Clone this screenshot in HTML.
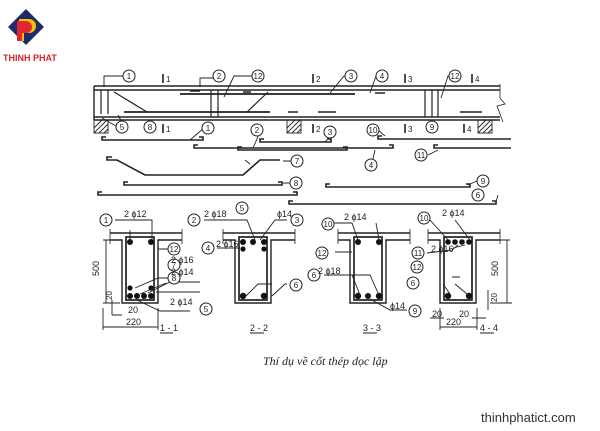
<!DOCTYPE html>
<html><head><meta charset="utf-8"><style>
html,body{margin:0;padding:0;background:#fff;}
svg{display:block;}
text{font-family:"Liberation Sans",sans-serif;fill:#222;}
</style></head><body>
<svg width="600" height="431" viewBox="0 0 600 431" xmlns="http://www.w3.org/2000/svg">
<defs>
<g id="sec" fill="none" stroke="#222">
  <path d="M-12,233 H60 M-12,240 H0 V303 H36 V240 H60" stroke-width="1.4"/>
  <path d="M-12,229 v15 M60,229 v15" stroke-width="0.8"/>
  <rect x="4" y="237" width="28" height="63" stroke-width="1.7"/>
</g>
<g id="hat" stroke="#222" fill="none" stroke-width="0.9">
  <rect x="0" y="0" width="14" height="13"/>
  <path d="M0,8 L8,0 M0,13 L13,0 M5,13 L14,4 M10,13 L14,9"/>
</g>
</defs>

<!-- Logo -->
<path d="M26,9 L44,27 L26,45 L8,27 Z" fill="#1f2a6b"/>
<path d="M19,19 h10 a7,7 0 0 1 0,14 h-5 v8 h-5 z" fill="#f2c100"/>
<path d="M17,21 h9 a6,6 0 0 1 0,12 h-4 v8 h-5 z" fill="#e0262e"/>
<text x="3" y="61" font-size="9" font-weight="bold" style="fill:#d6262a">THINH PHAT</text>

<!-- Beam elevation -->
<g stroke="#222" fill="none">
  <path d="M94,86 H500 M94,90 H500 M94,117 H500 M94,120 H500 M94,86 V120" stroke-width="1.4"/>
  <path d="M500,84 V98 L505,104 L497,106 L503,122" stroke-width="0.8"/>
  <path d="M101,90 V114 M108,90 V114 M114,92 L147,112 M247,112 L268,92 M211,90 V117 M218,90 V117 M425,90 V117 M432,90 V117 M438,90 V117" stroke-width="1.2"/>
  <path d="M124,112 H270 M180,94 H355" stroke-width="1.8"/>
  <path d="M190,91 h10 M243,92 h8 M375,93 h10 M288,112 h10 M318,112 h10 M326,112 h10 M460,112 h10 M470,112 h12" stroke-width="1.6"/>
  <use href="#hat" x="94" y="120"/><use href="#hat" x="287" y="120"/><use href="#hat" x="478" y="120"/>
  <path d="M163,74 v9 M313,74 v9 M405,74 v9 M472,74 v9 M163,124 v9 M313,124 v9 M405,124 v9 M464,124 v9" stroke-width="1.6"/>
</g>
<g font-size="8">
<text x="166" y="82">1</text><text x="316" y="82">2</text><text x="408" y="82">3</text><text x="475" y="82">4</text>
<text x="166" y="132">1</text><text x="316" y="132">2</text><text x="408" y="132">3</text><text x="467" y="132">4</text>
</g>

<!-- Bars -->
<g stroke="#222" fill="none" stroke-width="1.6">
  <path d="M106,137 h-4 v3 h101 v-3 h-4"/>
  <path d="M198,145 h-4 v3 h199 v-3 h-4"/>
  <path d="M264,139 h-4 v3 h71 v-3 h-4"/>
  <path d="M242,147 h-4 v3 h109 v-3 h-4"/>
  <path d="M382,136 h-4 v3 h133"/>
  <path d="M438,145 h-4 v3 h77"/>
  <path d="M112,157 h-5 v3 h10 l28,15 h98 l17,-15 h20"/>
  <path d="M128,182 h-4 v3 h158 v-3 h-4"/>
  <path d="M330,184 h-4 v3 h144 v-3 h-4"/>
  <path d="M102,192 h-4 v3 h199 v-3 h-4"/>
  <path d="M293,201 h-4 v3 h207 v-3 h-4"/>
</g>

<g stroke="#222" fill="none" stroke-width="0.9">
  <path d="M104,87 V76 H124 M200,87 V78 H214 M224,97 L234,76 H252 M330,93 L344,76 H346 M370,93 L376,76 H378 M441,98 L448,76 H450 M102,118 L116,126 M118,115 L124,126 M190,140 L204,128 M253,148 L260,132 M325,142 L334,132 M385,136 L378,130 M438,150 L428,155 M375,150 L372,163 M283,161 L295,161 M283,183 L291,183 M468,185 L477,181 M496,202 L498,195 M245,160 L250,164"/>
</g>
<g font-size="8" text-anchor="middle">
<g stroke="#222" fill="#fff" stroke-width="1">
<circle cx="129" cy="76" r="6"/><circle cx="219" cy="76" r="6"/><circle cx="258" cy="76" r="6"/><circle cx="351" cy="76" r="6"/><circle cx="382" cy="76" r="6"/><circle cx="455" cy="76" r="6"/>
<circle cx="122" cy="127" r="6"/><circle cx="150" cy="127" r="6"/><circle cx="208" cy="128" r="6"/><circle cx="257" cy="130" r="6"/><circle cx="330" cy="132" r="6"/><circle cx="373" cy="130" r="6"/><circle cx="432" cy="127" r="6"/>
<circle cx="421" cy="155" r="6"/><circle cx="371" cy="165" r="6"/><circle cx="297" cy="161" r="6"/><circle cx="296" cy="183" r="6"/><circle cx="483" cy="181" r="6"/><circle cx="478" cy="195" r="6"/><circle cx="242" cy="208" r="6"/>
</g>
<text x="129" y="79">1</text><text x="219" y="79">2</text><text x="258" y="79">12</text><text x="351" y="79">3</text><text x="382" y="79">4</text><text x="455" y="79">12</text>
<text x="122" y="130">5</text><text x="150" y="130">8</text><text x="208" y="131">1</text><text x="257" y="133">2</text><text x="330" y="135">3</text><text x="373" y="133">10</text><text x="432" y="130">9</text>
<text x="421" y="158">11</text><text x="371" y="168">4</text><text x="297" y="164">7</text><text x="296" y="186">8</text><text x="483" y="184">9</text><text x="478" y="198">6</text><text x="242" y="211">5</text>
</g>

<!-- Sections -->
<use href="#sec" x="122"/><use href="#sec" x="235"/><use href="#sec" x="350"/><use href="#sec" x="440"/>
<g fill="#111">
  <circle cx="130" cy="242" r="3"/><circle cx="151" cy="242" r="3"/>
  <circle cx="130" cy="288" r="2.6"/><circle cx="151" cy="288" r="2.6"/>
  <circle cx="130" cy="296" r="3"/><circle cx="137" cy="296" r="3"/><circle cx="144" cy="296" r="3"/><circle cx="151" cy="296" r="3"/>
  <circle cx="243" cy="242" r="3"/><circle cx="253" cy="242" r="3"/><circle cx="264" cy="242" r="3"/><circle cx="243" cy="249" r="2.6"/><circle cx="264" cy="249" r="2.6"/>
  <circle cx="243" cy="296" r="3.2"/><circle cx="264" cy="296" r="3.2"/>
  <circle cx="358" cy="242" r="3"/><circle cx="379" cy="242" r="3"/>
  <circle cx="358" cy="296" r="3.2"/><circle cx="368" cy="296" r="3"/><circle cx="379" cy="296" r="3.2"/>
  <circle cx="448" cy="242" r="2.8"/><circle cx="455" cy="242" r="2.8"/><circle cx="462" cy="242" r="2.8"/><circle cx="469" cy="242" r="2.8"/>
  <circle cx="448" cy="296" r="3.2"/><circle cx="469" cy="296" r="3.2"/>
</g>
<g stroke="#222" fill="none" stroke-width="0.9">
  <path d="M115,220 H152 V240 M130,240 V230 M158,249 H168 M135,288 L158,278 H168 M140,294 L166,283 M148,293 L170,282 H200 M156,292 L172,292 H200 M137,300 L160,311 H190"/>
  <path d="M103,240 H120 M103,303 H120 M106,240 V303 M103,308 V330 M158,308 V330 M103,327 H158 M112,300 V315 M112,315 H122"/>
  <path d="M204,220 H247 L255,240 M287,220 H275 L260,240 M217,248 H240 M246,296 L258,284 H272 M272,296 L285,284 H287"/>
  <path d="M333,223 H352 L358,240 M376,223 L379,240 M335,252 H352 M324,275 H352 L360,295 M352,275 H370 L378,293 M370,299 L390,310 H407"/>
  <path d="M430,220 L448,240 M455,220 L470,240 M427,253 L452,250 L458,245 M453,248 L465,245 M452,277 H460 M443,284 L450,294 M455,284 L467,294"/>
  <path d="M490,240 H510 M490,303 H512 M507,240 V303 M440,308 V330 M477,308 V330 M440,327 H477 M430,318 H444 M472,318 H486 M488,290 V310"/>
  <path d="M160,333 h13 M250,333 h14 M363,333 h14 M480,333 h14" stroke-width="1.1"/>
</g>
<g font-size="8" text-anchor="middle">
<g stroke="#222" fill="#fff" stroke-width="1">
<circle cx="106" cy="220" r="6"/><circle cx="174" cy="249" r="6"/><circle cx="174" cy="265" r="6"/><circle cx="174" cy="278" r="6"/><circle cx="206" cy="309" r="6"/>
<circle cx="194" cy="220" r="6"/><circle cx="297" cy="220" r="6"/><circle cx="208" cy="248" r="6"/><circle cx="296" cy="285" r="6"/>
<circle cx="328" cy="224" r="6"/><circle cx="322" cy="253" r="6"/><circle cx="314" cy="275" r="6"/><circle cx="415" cy="311" r="6"/>
<circle cx="424" cy="218" r="6"/><circle cx="418" cy="253" r="6"/><circle cx="417" cy="267" r="6"/><circle cx="413" cy="283" r="6"/>
</g>
<text x="106" y="223">1</text><text x="174" y="252">12</text><text x="174" y="268">7</text><text x="174" y="281">8</text><text x="206" y="312">5</text>
<text x="194" y="223">2</text><text x="297" y="223">3</text><text x="208" y="251">4</text><text x="296" y="288">6</text>
<text x="328" y="227">10</text><text x="322" y="256">12</text><text x="314" y="278">6</text><text x="415" y="314">9</text>
<text x="424" y="221">10</text><text x="418" y="256">11</text><text x="417" y="270">12</text><text x="413" y="286">6</text>
</g>
<g font-size="9">
<text x="124" y="217">2 ϕ12</text><text x="171" y="263">2 ϕ16</text><text x="171" y="275">2 ϕ14</text><text x="170" y="305">2 ϕ14</text>
<text x="204" y="217">2 ϕ18</text><text x="277" y="217">ϕ14</text><text x="216" y="247">2 ϕ16</text>
<text x="344" y="220">2 ϕ14</text><text x="318" y="274">2 ϕ18</text><text x="390" y="309">ϕ14</text>
<text x="442" y="216">2 ϕ14</text><text x="431" y="252">2 ϕ16</text>
<text x="126" y="325">220</text><text x="128" y="313">20</text><text x="446" y="325">220</text><text x="432" y="317">20</text><text x="459" y="317">20</text>
<text x="160" y="331">1 - 1</text><text x="250" y="331">2 - 2</text><text x="363" y="331">3 - 3</text><text x="480" y="331">4 - 4</text>
<text transform="translate(99,276) rotate(-90)">500</text><text transform="translate(498,276) rotate(-90)">500</text>
<text transform="translate(112,300) rotate(-90)" font-size="8">20</text><text transform="translate(497,302) rotate(-90)" font-size="8">20</text>
</g>
<text x="263" y="365" font-size="12" font-style="italic" style="font-family:'Liberation Serif',serif">Thí dụ về cốt thép dọc lập</text>
<text x="481" y="422" font-size="13" style="fill:#333">thinhphatict.com</text>
</svg>
</body></html>
